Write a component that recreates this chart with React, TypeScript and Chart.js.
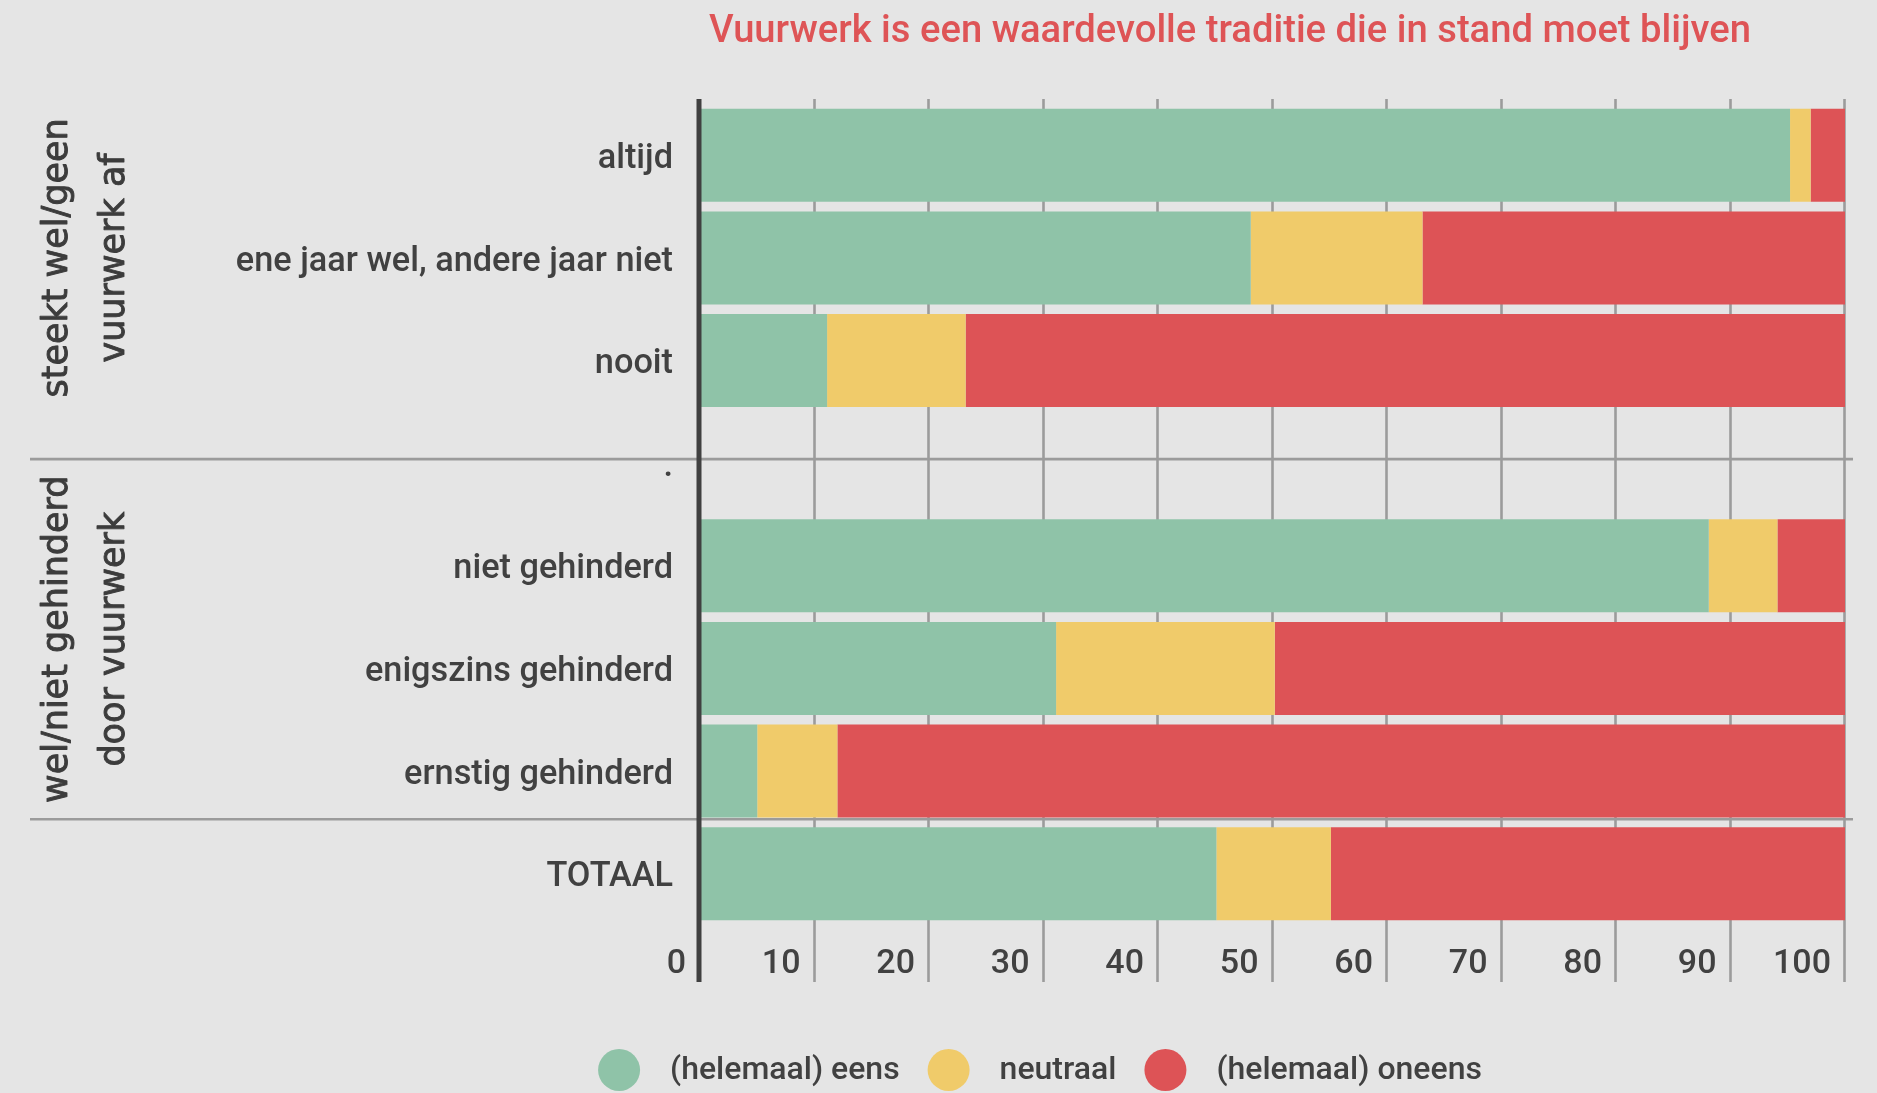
import { useEffect, useRef } from "react";
import { Chart, registerables } from "chart.js";

Chart.register(...registerables);

// Survey answers per respondent group, in percent
const categories = [
  "altijd",
  "ene jaar wel, andere jaar niet",
  "nooit",
  ".",
  "niet gehinderd",
  "enigszins gehinderd",
  "ernstig gehinderd",
  "TOTAAL",
];
const eens = [95.2, 48.1, 11.1, null, 88.1, 31.1, 5.0, 45.1];
const neutraal = [1.8, 15.0, 12.1, null, 6.0, 19.1, 7.0, 10.0];
const oneens = [3.0, 36.9, 76.8, null, 5.9, 49.8, 88.0, 44.9];

const seriesNames = ["(helemaal) eens", "neutraal", "(helemaal) oneens"];
const seriesColors = ["#8fc3a8", "#f0cb6a", "#dd5356"];

const xTicks = [0, 10, 20, 30, 40, 50, 60, 70, 80, 90, 100];

const chartTitle = "Vuurwerk is een waardevolle traditie die in stand moet blijven";

// Row groups: rotated caption lines, caption centre and group edges (as category positions)
const groupTitles = [
  ["steekt wel/geen", "vuurwerk af"],
  ["wel/niet gehinderd", "door vuurwerk"],
];
const groupCenters = [1, 4.715];
const groupEdges = [2.96, 6.47];

const FONT = "Roboto, 'Noto Sans', sans-serif";
const GROUP_FONT = "'DejaVu Sans', Verdana, sans-serif";
const TEXT = "#414141";
const GRID = "#9b9b9b";
const AXIS = "#404040";
const BG = "#e5e5e5";

const decorPlugin = {
  id: "decor",
  beforeDatasetsDraw(chart: any) {
    const { ctx, chartArea, scales } = chart;
    const x = scales.x;
    const y = scales.y;
    ctx.save();
    ctx.strokeStyle = GRID;
    ctx.lineWidth = 2.6;
    // vertical grid lines, running into the tick label band
    for (const v of xTicks) {
      if (v === 0) continue;
      const px = Math.round(x.getPixelForValue(v)) - 0.5;
      ctx.beginPath();
      ctx.moveTo(px, chartArea.top - 5);
      ctx.lineTo(px, chartArea.bottom + 57);
      ctx.stroke();
    }
    // horizontal group separators
    for (const e of groupEdges) {
      const py = y.getPixelForValue(e);
      ctx.beginPath();
      ctx.moveTo(30, py);
      ctx.lineTo(chartArea.right + 8, py);
      ctx.stroke();
    }
    ctx.restore();
  },
  afterDatasetsDraw(chart: any) {
    const { ctx, chartArea, scales, data } = chart;
    const x = scales.x;
    const y = scales.y;
    ctx.save();

    // value axis line at zero
    const x0 = x.getPixelForValue(0) - 1;
    ctx.strokeStyle = AXIS;
    ctx.lineWidth = 5;
    ctx.beginPath();
    ctx.moveTo(x0, chartArea.top - 5);
    ctx.lineTo(x0, chartArea.bottom + 57);
    ctx.stroke();

    // tick labels, right-aligned just left of each grid line
    ctx.fillStyle = TEXT;
    ctx.font = `500 34px ${FONT}`;
    ctx.textAlign = "right";
    ctx.textBaseline = "alphabetic";
    for (const v of xTicks) {
      const px = x.getPixelForValue(v);
      ctx.fillText(String(v), px - 14, chartArea.bottom + 48);
    }

    // rotated group captions, slightly emboldened with a thin outline
    ctx.font = `35px ${GROUP_FONT}`;
    ctx.fillStyle = "#3c3c3c";
    ctx.strokeStyle = "#3c3c3c";
    ctx.lineWidth = 0.9;
    ctx.lineJoin = "round";
    ctx.textAlign = "center";
    ctx.textBaseline = "middle";
    const lineX = [58, 115];
    groupTitles.forEach((lines, gi) => {
      const cy = y.getPixelForValue(groupCenters[gi]);
      ctx.save();
      ctx.translate(0, cy);
      ctx.rotate(-Math.PI / 2);
      lines.forEach((t, li) => {
        ctx.fillText(t, 0, lineX[li]);
        ctx.strokeText(t, 0, lineX[li]);
      });
      ctx.restore();
    });

    // title
    ctx.fillStyle = "#de5456";
    ctx.font = `500 38.2px ${FONT}`;
    ctx.textAlign = "left";
    ctx.textBaseline = "alphabetic";
    ctx.fillText(chartTitle, chartArea.left + 9, 42);

    // legend: dot + label per series
    ctx.font = `500 32px ${FONT}`;
    ctx.textBaseline = "middle";
    const r = 21;
    const gapDot = 30;
    const gapItem = 28;
    const widths = data.datasets.map((d: any) => ctx.measureText(d.label).width);
    const total =
      widths.reduce((a: number, w: number) => a + w, 0) +
      data.datasets.length * (2 * r + gapDot) +
      (data.datasets.length - 1) * gapItem;
    let lx = 1040 - total / 2;
    const ly = 1070;
    data.datasets.forEach((d: any, i: number) => {
      ctx.fillStyle = d.backgroundColor;
      ctx.beginPath();
      ctx.arc(lx + r, ly, r, 0, Math.PI * 2);
      ctx.fill();
      lx += 2 * r + gapDot;
      ctx.fillStyle = TEXT;
      ctx.fillText(d.label, lx, ly + 1);
      lx += widths[i] + gapItem;
    });

    ctx.restore();
  },
};

export default function App() {
  const canvasRef = useRef<HTMLCanvasElement | null>(null);

  useEffect(() => {
    if (!canvasRef.current) return;
    const series = [eens, neutraal, oneens];
    const chart = new Chart(canvasRef.current, {
      type: "bar",
      data: {
        labels: categories,
        datasets: series.map((values, i) => ({
          label: seriesNames[i],
          data: values,
          backgroundColor: seriesColors[i],
          borderWidth: 0,
          barPercentage: 0.905,
          categoryPercentage: 1.0,
        })),
      },
      options: {
        indexAxis: "y",
        animation: false,
        responsive: false,
        maintainAspectRatio: false,
        layout: { padding: { left: 0, right: 32, top: 104, bottom: 0 } },
        plugins: {
          legend: { display: false },
          title: { display: false },
          tooltip: { enabled: false },
        },
        scales: {
          x: {
            stacked: true,
            min: 0,
            max: 100,
            afterBuildTicks: (s: any) => {
              s.ticks = xTicks.map((v) => ({ value: v }));
            },
            afterFit: (s: any) => {
              s.height = 168;
            },
            grid: { display: false, drawTicks: false },
            border: { display: false },
            ticks: { display: false },
          },
          y: {
            stacked: true,
            afterFit: (s: any) => {
              s.width = 700;
            },
            grid: { display: false, drawTicks: false },
            border: { display: false },
            ticks: {
              color: TEXT,
              padding: 27,
              labelOffset: 4,
              font: { family: FONT, size: 34.3, weight: 500 },
              autoSkip: false,
            },
          },
        },
      },
      plugins: [decorPlugin],
    });
    return () => chart.destroy();
  }, []);

  return (
    <div
      style={{
        position: "fixed",
        left: 0,
        top: 0,
        width: 1877,
        height: 1093,
        background: BG,
      }}
    >
      <canvas ref={canvasRef} width={1877} height={1093} style={{ display: "block" }} />
    </div>
  );
}
